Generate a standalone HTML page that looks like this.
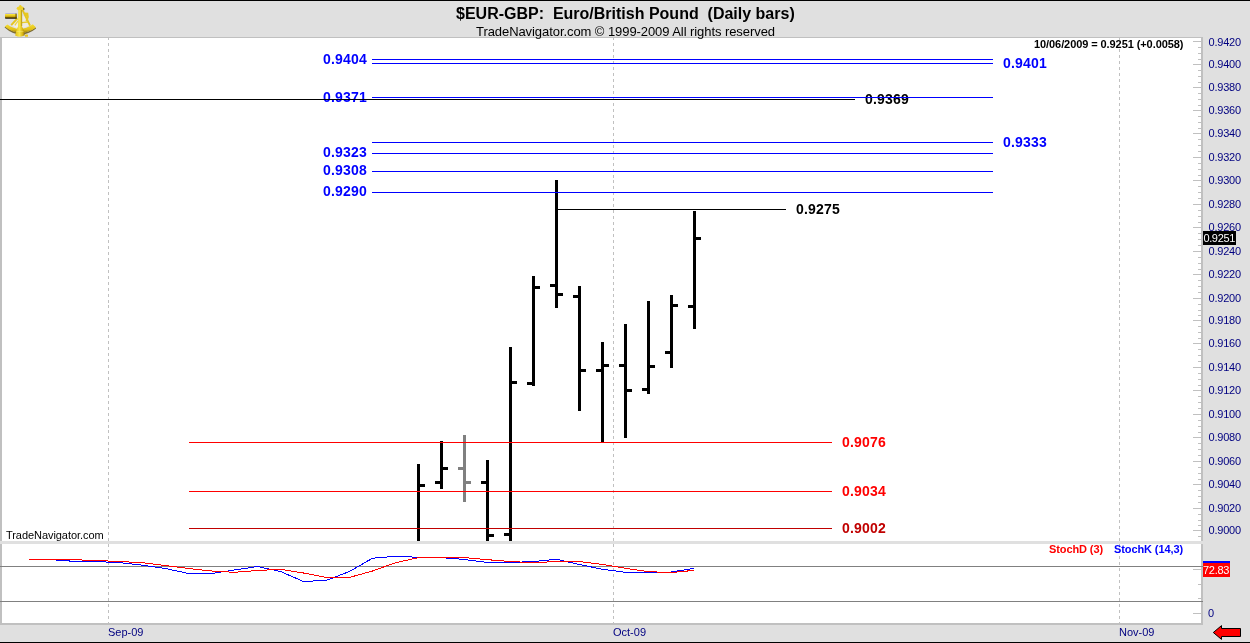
<!DOCTYPE html>
<html><head><meta charset="utf-8"><title>$EUR-GBP: Euro/British Pound (Daily bars)</title>
<style>
html,body{margin:0;padding:0;}
body{width:1250px;height:643px;background:#e0e0e0;position:relative;overflow:hidden;font-family:"Liberation Sans",sans-serif;}
#c{position:absolute;left:0;top:0;width:1250px;height:643px;overflow:hidden;}
#c div{position:absolute;}
.t{position:absolute;white-space:pre;line-height:1;transform-origin:0 0;}
.vd{width:1px;background:repeating-linear-gradient(to bottom,#c0c0c0 0,#c0c0c0 3px,transparent 3px,transparent 6px);}
.ov{position:absolute;left:0;top:0;}
</style></head><body><div id="c">
<div style="left:0px;top:0px;width:1250px;height:1px;background:#000;"></div>
<div style="left:0px;top:642px;width:1250px;height:1px;background:#000;"></div>
<div style="left:0px;top:37px;width:1203px;height:504px;background:#c0c0c0;"></div>
<div style="left:2px;top:38px;width:1199px;height:503px;background:#fff;"></div>
<div style="left:0px;top:544px;width:1203px;height:81px;background:#c0c0c0;"></div>
<div style="left:2px;top:544px;width:1199px;height:79px;background:#fff;"></div>
<div class="vd" style="left:108px;top:37px;height:143px"></div>
<div class="vd" style="left:108px;top:180px;height:123px"></div>
<div class="vd" style="left:108px;top:305px;height:125px"></div>
<div class="vd" style="left:108px;top:430px;height:111px"></div>
<div class="vd" style="left:108px;top:544px;height:79px"></div>
<div class="vd" style="left:613px;top:37px;height:143px"></div>
<div class="vd" style="left:613px;top:180px;height:123px"></div>
<div class="vd" style="left:613px;top:305px;height:125px"></div>
<div class="vd" style="left:613px;top:430px;height:111px"></div>
<div class="vd" style="left:613px;top:544px;height:79px"></div>
<div class="vd" style="left:1119px;top:37px;height:143px"></div>
<div class="vd" style="left:1119px;top:180px;height:123px"></div>
<div class="vd" style="left:1119px;top:305px;height:125px"></div>
<div class="vd" style="left:1119px;top:430px;height:111px"></div>
<div class="vd" style="left:1119px;top:544px;height:79px"></div>
<div style="left:1193px;top:41px;width:8px;height:1px;background:#c0c0c0;"></div>
<div style="left:1198px;top:47px;width:3px;height:1px;background:#c0c0c0;"></div>
<div style="left:1198px;top:53px;width:3px;height:1px;background:#c0c0c0;"></div>
<div style="left:1198px;top:59px;width:3px;height:1px;background:#c0c0c0;"></div>
<span class="t ax" style="left:1208.5px;top:37px;font-size:11px;color:#000080;letter-spacing:-0.2px;">0.9420</span>
<div style="left:1193px;top:64px;width:8px;height:1px;background:#c0c0c0;"></div>
<div style="left:1198px;top:70px;width:3px;height:1px;background:#c0c0c0;"></div>
<div style="left:1198px;top:76px;width:3px;height:1px;background:#c0c0c0;"></div>
<div style="left:1198px;top:82px;width:3px;height:1px;background:#c0c0c0;"></div>
<span class="t ax" style="left:1208.5px;top:59px;font-size:11px;color:#000080;letter-spacing:-0.2px;">0.9400</span>
<div style="left:1193px;top:87px;width:8px;height:1px;background:#c0c0c0;"></div>
<div style="left:1198px;top:93px;width:3px;height:1px;background:#c0c0c0;"></div>
<div style="left:1198px;top:99px;width:3px;height:1px;background:#c0c0c0;"></div>
<div style="left:1198px;top:105px;width:3px;height:1px;background:#c0c0c0;"></div>
<span class="t ax" style="left:1208.5px;top:82px;font-size:11px;color:#000080;letter-spacing:-0.2px;">0.9380</span>
<div style="left:1193px;top:110px;width:8px;height:1px;background:#c0c0c0;"></div>
<div style="left:1198px;top:116px;width:3px;height:1px;background:#c0c0c0;"></div>
<div style="left:1198px;top:122px;width:3px;height:1px;background:#c0c0c0;"></div>
<div style="left:1198px;top:128px;width:3px;height:1px;background:#c0c0c0;"></div>
<span class="t ax" style="left:1208.5px;top:105px;font-size:11px;color:#000080;letter-spacing:-0.2px;">0.9360</span>
<div style="left:1193px;top:133px;width:8px;height:1px;background:#c0c0c0;"></div>
<div style="left:1198px;top:139px;width:3px;height:1px;background:#c0c0c0;"></div>
<div style="left:1198px;top:145px;width:3px;height:1px;background:#c0c0c0;"></div>
<div style="left:1198px;top:151px;width:3px;height:1px;background:#c0c0c0;"></div>
<span class="t ax" style="left:1208.5px;top:128px;font-size:11px;color:#000080;letter-spacing:-0.2px;">0.9340</span>
<div style="left:1193px;top:157px;width:8px;height:1px;background:#c0c0c0;"></div>
<div style="left:1198px;top:163px;width:3px;height:1px;background:#c0c0c0;"></div>
<div style="left:1198px;top:169px;width:3px;height:1px;background:#c0c0c0;"></div>
<div style="left:1198px;top:175px;width:3px;height:1px;background:#c0c0c0;"></div>
<span class="t ax" style="left:1208.5px;top:152px;font-size:11px;color:#000080;letter-spacing:-0.2px;">0.9320</span>
<div style="left:1193px;top:180px;width:8px;height:1px;background:#c0c0c0;"></div>
<div style="left:1198px;top:186px;width:3px;height:1px;background:#c0c0c0;"></div>
<div style="left:1198px;top:192px;width:3px;height:1px;background:#c0c0c0;"></div>
<div style="left:1198px;top:198px;width:3px;height:1px;background:#c0c0c0;"></div>
<span class="t ax" style="left:1208.5px;top:175px;font-size:11px;color:#000080;letter-spacing:-0.2px;">0.9300</span>
<div style="left:1193px;top:204px;width:8px;height:1px;background:#c0c0c0;"></div>
<div style="left:1198px;top:210px;width:3px;height:1px;background:#c0c0c0;"></div>
<div style="left:1198px;top:216px;width:3px;height:1px;background:#c0c0c0;"></div>
<div style="left:1198px;top:222px;width:3px;height:1px;background:#c0c0c0;"></div>
<span class="t ax" style="left:1208.5px;top:199px;font-size:11px;color:#000080;letter-spacing:-0.2px;">0.9280</span>
<div style="left:1193px;top:227px;width:8px;height:1px;background:#c0c0c0;"></div>
<div style="left:1198px;top:233px;width:3px;height:1px;background:#c0c0c0;"></div>
<div style="left:1198px;top:239px;width:3px;height:1px;background:#c0c0c0;"></div>
<div style="left:1198px;top:245px;width:3px;height:1px;background:#c0c0c0;"></div>
<span class="t ax" style="left:1208.5px;top:222px;font-size:11px;color:#000080;letter-spacing:-0.2px;">0.9260</span>
<div style="left:1193px;top:251px;width:8px;height:1px;background:#c0c0c0;"></div>
<div style="left:1198px;top:257px;width:3px;height:1px;background:#c0c0c0;"></div>
<div style="left:1198px;top:263px;width:3px;height:1px;background:#c0c0c0;"></div>
<div style="left:1198px;top:269px;width:3px;height:1px;background:#c0c0c0;"></div>
<span class="t ax" style="left:1208.5px;top:246px;font-size:11px;color:#000080;letter-spacing:-0.2px;">0.9240</span>
<div style="left:1193px;top:274px;width:8px;height:1px;background:#c0c0c0;"></div>
<div style="left:1198px;top:280px;width:3px;height:1px;background:#c0c0c0;"></div>
<div style="left:1198px;top:286px;width:3px;height:1px;background:#c0c0c0;"></div>
<div style="left:1198px;top:292px;width:3px;height:1px;background:#c0c0c0;"></div>
<span class="t ax" style="left:1208.5px;top:269px;font-size:11px;color:#000080;letter-spacing:-0.2px;">0.9220</span>
<div style="left:1193px;top:298px;width:8px;height:1px;background:#c0c0c0;"></div>
<div style="left:1198px;top:304px;width:3px;height:1px;background:#c0c0c0;"></div>
<div style="left:1198px;top:310px;width:3px;height:1px;background:#c0c0c0;"></div>
<div style="left:1198px;top:315px;width:3px;height:1px;background:#c0c0c0;"></div>
<span class="t ax" style="left:1208.5px;top:293px;font-size:11px;color:#000080;letter-spacing:-0.2px;">0.9200</span>
<div style="left:1193px;top:320px;width:8px;height:1px;background:#c0c0c0;"></div>
<div style="left:1198px;top:326px;width:3px;height:1px;background:#c0c0c0;"></div>
<div style="left:1198px;top:332px;width:3px;height:1px;background:#c0c0c0;"></div>
<div style="left:1198px;top:338px;width:3px;height:1px;background:#c0c0c0;"></div>
<span class="t ax" style="left:1208.5px;top:315px;font-size:11px;color:#000080;letter-spacing:-0.2px;">0.9180</span>
<div style="left:1193px;top:343px;width:8px;height:1px;background:#c0c0c0;"></div>
<div style="left:1198px;top:349px;width:3px;height:1px;background:#c0c0c0;"></div>
<div style="left:1198px;top:355px;width:3px;height:1px;background:#c0c0c0;"></div>
<div style="left:1198px;top:361px;width:3px;height:1px;background:#c0c0c0;"></div>
<span class="t ax" style="left:1208.5px;top:338px;font-size:11px;color:#000080;letter-spacing:-0.2px;">0.9160</span>
<div style="left:1193px;top:367px;width:8px;height:1px;background:#c0c0c0;"></div>
<div style="left:1198px;top:373px;width:3px;height:1px;background:#c0c0c0;"></div>
<div style="left:1198px;top:379px;width:3px;height:1px;background:#c0c0c0;"></div>
<div style="left:1198px;top:385px;width:3px;height:1px;background:#c0c0c0;"></div>
<span class="t ax" style="left:1208.5px;top:362px;font-size:11px;color:#000080;letter-spacing:-0.2px;">0.9140</span>
<div style="left:1193px;top:390px;width:8px;height:1px;background:#c0c0c0;"></div>
<div style="left:1198px;top:396px;width:3px;height:1px;background:#c0c0c0;"></div>
<div style="left:1198px;top:402px;width:3px;height:1px;background:#c0c0c0;"></div>
<div style="left:1198px;top:408px;width:3px;height:1px;background:#c0c0c0;"></div>
<span class="t ax" style="left:1208.5px;top:385px;font-size:11px;color:#000080;letter-spacing:-0.2px;">0.9120</span>
<div style="left:1193px;top:414px;width:8px;height:1px;background:#c0c0c0;"></div>
<div style="left:1198px;top:420px;width:3px;height:1px;background:#c0c0c0;"></div>
<div style="left:1198px;top:426px;width:3px;height:1px;background:#c0c0c0;"></div>
<div style="left:1198px;top:432px;width:3px;height:1px;background:#c0c0c0;"></div>
<span class="t ax" style="left:1208.5px;top:409px;font-size:11px;color:#000080;letter-spacing:-0.2px;">0.9100</span>
<div style="left:1193px;top:437px;width:8px;height:1px;background:#c0c0c0;"></div>
<div style="left:1198px;top:443px;width:3px;height:1px;background:#c0c0c0;"></div>
<div style="left:1198px;top:449px;width:3px;height:1px;background:#c0c0c0;"></div>
<div style="left:1198px;top:455px;width:3px;height:1px;background:#c0c0c0;"></div>
<span class="t ax" style="left:1208.5px;top:432px;font-size:11px;color:#000080;letter-spacing:-0.2px;">0.9080</span>
<div style="left:1193px;top:461px;width:8px;height:1px;background:#c0c0c0;"></div>
<div style="left:1198px;top:467px;width:3px;height:1px;background:#c0c0c0;"></div>
<div style="left:1198px;top:473px;width:3px;height:1px;background:#c0c0c0;"></div>
<div style="left:1198px;top:479px;width:3px;height:1px;background:#c0c0c0;"></div>
<span class="t ax" style="left:1208.5px;top:456px;font-size:11px;color:#000080;letter-spacing:-0.2px;">0.9060</span>
<div style="left:1193px;top:484px;width:8px;height:1px;background:#c0c0c0;"></div>
<div style="left:1198px;top:490px;width:3px;height:1px;background:#c0c0c0;"></div>
<div style="left:1198px;top:496px;width:3px;height:1px;background:#c0c0c0;"></div>
<div style="left:1198px;top:502px;width:3px;height:1px;background:#c0c0c0;"></div>
<span class="t ax" style="left:1208.5px;top:479px;font-size:11px;color:#000080;letter-spacing:-0.2px;">0.9040</span>
<div style="left:1193px;top:508px;width:8px;height:1px;background:#c0c0c0;"></div>
<div style="left:1198px;top:514px;width:3px;height:1px;background:#c0c0c0;"></div>
<div style="left:1198px;top:520px;width:3px;height:1px;background:#c0c0c0;"></div>
<div style="left:1198px;top:525px;width:3px;height:1px;background:#c0c0c0;"></div>
<span class="t ax" style="left:1208.5px;top:503px;font-size:11px;color:#000080;letter-spacing:-0.2px;">0.9020</span>
<div style="left:1193px;top:530px;width:8px;height:1px;background:#c0c0c0;"></div>
<div style="left:1198px;top:536px;width:3px;height:1px;background:#c0c0c0;"></div>
<span class="t ax" style="left:1208.5px;top:525px;font-size:11px;color:#000080;letter-spacing:-0.2px;">0.9000</span>
<div style="left:417px;top:464px;width:3px;height:77px;background:#000;"></div>
<div style="left:420px;top:484px;width:5px;height:3px;background:#000;"></div>
<div style="left:440px;top:441px;width:3px;height:48px;background:#000;"></div>
<div style="left:435px;top:481px;width:5px;height:3px;background:#000;"></div>
<div style="left:443px;top:467px;width:5px;height:3px;background:#000;"></div>
<div style="left:463px;top:435px;width:3px;height:67px;background:#808080;"></div>
<div style="left:458px;top:467px;width:5px;height:3px;background:#808080;"></div>
<div style="left:466px;top:481px;width:5px;height:3px;background:#808080;"></div>
<div style="left:486px;top:460px;width:3px;height:81px;background:#000;"></div>
<div style="left:481px;top:481px;width:5px;height:3px;background:#000;"></div>
<div style="left:489px;top:534px;width:5px;height:3px;background:#000;"></div>
<div style="left:509px;top:347px;width:3px;height:194px;background:#000;"></div>
<div style="left:504px;top:533px;width:5px;height:3px;background:#000;"></div>
<div style="left:512px;top:381px;width:5px;height:3px;background:#000;"></div>
<div style="left:532px;top:276px;width:3px;height:110px;background:#000;"></div>
<div style="left:527px;top:382px;width:5px;height:3px;background:#000;"></div>
<div style="left:535px;top:286px;width:5px;height:3px;background:#000;"></div>
<div style="left:555px;top:180px;width:3px;height:128px;background:#000;"></div>
<div style="left:550px;top:284px;width:5px;height:3px;background:#000;"></div>
<div style="left:558px;top:293px;width:5px;height:3px;background:#000;"></div>
<div style="left:578px;top:286px;width:3px;height:125px;background:#000;"></div>
<div style="left:573px;top:295px;width:5px;height:3px;background:#000;"></div>
<div style="left:581px;top:369px;width:5px;height:3px;background:#000;"></div>
<div style="left:601px;top:342px;width:3px;height:100px;background:#000;"></div>
<div style="left:596px;top:369px;width:5px;height:3px;background:#000;"></div>
<div style="left:604px;top:364px;width:5px;height:3px;background:#000;"></div>
<div style="left:624px;top:324px;width:3px;height:114px;background:#000;"></div>
<div style="left:619px;top:364px;width:5px;height:3px;background:#000;"></div>
<div style="left:627px;top:389px;width:5px;height:3px;background:#000;"></div>
<div style="left:647px;top:301px;width:3px;height:93px;background:#000;"></div>
<div style="left:642px;top:388px;width:5px;height:3px;background:#000;"></div>
<div style="left:650px;top:365px;width:5px;height:3px;background:#000;"></div>
<div style="left:670px;top:295px;width:3px;height:73px;background:#000;"></div>
<div style="left:665px;top:351px;width:5px;height:3px;background:#000;"></div>
<div style="left:673px;top:304px;width:5px;height:3px;background:#000;"></div>
<div style="left:693px;top:211px;width:3px;height:118px;background:#000;"></div>
<div style="left:688px;top:305px;width:5px;height:3px;background:#000;"></div>
<div style="left:696px;top:237px;width:5px;height:3px;background:#000;"></div>
<span class="t lb" style="left:323px;top:52px;font-size:14px;color:#0000ff;font-weight:bold;letter-spacing:0.2px;">0.9404</span>
<span class="t lb" style="left:323px;top:90px;font-size:14px;color:#0000ff;font-weight:bold;letter-spacing:0.2px;">0.9371</span>
<span class="t lb" style="left:323px;top:145px;font-size:14px;color:#0000ff;font-weight:bold;letter-spacing:0.2px;">0.9323</span>
<span class="t lb" style="left:323px;top:163px;font-size:14px;color:#0000ff;font-weight:bold;letter-spacing:0.2px;">0.9308</span>
<span class="t lb" style="left:323px;top:184px;font-size:14px;color:#0000ff;font-weight:bold;letter-spacing:0.2px;">0.9290</span>
<span class="t lb" style="left:1003px;top:56px;font-size:14px;color:#0000ff;font-weight:bold;letter-spacing:0.2px;">0.9401</span>
<span class="t lb" style="left:1003px;top:135px;font-size:14px;color:#0000ff;font-weight:bold;letter-spacing:0.2px;">0.9333</span>
<span class="t lb" style="left:865px;top:92px;font-size:14px;color:#000;font-weight:bold;letter-spacing:0.2px;">0.9369</span>
<span class="t lb" style="left:796px;top:202px;font-size:14px;color:#000;font-weight:bold;letter-spacing:0.2px;">0.9275</span>
<span class="t lb" style="left:842px;top:435px;font-size:14px;color:#ff0000;font-weight:bold;letter-spacing:0.2px;">0.9076</span>
<span class="t lb" style="left:842px;top:484px;font-size:14px;color:#ff0000;font-weight:bold;letter-spacing:0.2px;">0.9034</span>
<span class="t lb" style="left:842px;top:521px;font-size:14px;color:#c00000;font-weight:bold;letter-spacing:0.2px;">0.9002</span>
<div style="left:372px;top:59px;width:621px;height:1px;background:#0000ff;"></div>
<div style="left:372px;top:63px;width:621px;height:1px;background:#0000ff;"></div>
<div style="left:372px;top:97px;width:621px;height:1px;background:#0000ff;"></div>
<div style="left:372px;top:142px;width:621px;height:1px;background:#0000ff;"></div>
<div style="left:372px;top:153px;width:621px;height:1px;background:#0000ff;"></div>
<div style="left:372px;top:171px;width:621px;height:1px;background:#0000ff;"></div>
<div style="left:372px;top:192px;width:621px;height:1px;background:#0000ff;"></div>
<div style="left:0px;top:99px;width:855px;height:1px;background:#000;"></div>
<div style="left:557px;top:209px;width:229px;height:1px;background:#000;"></div>
<div style="left:189px;top:442px;width:643px;height:1px;background:#ff0000;"></div>
<div style="left:189px;top:491px;width:643px;height:1px;background:#ff0000;"></div>
<div style="left:189px;top:528px;width:643px;height:1px;background:#c00000;"></div>
<span class="t info" style="left:1034px;top:39px;font-size:11px;color:#000;font-weight:bold;letter-spacing:-0.08px;">10/06/2009 = 0.9251 (+0.0058)</span>
<span class="t wm" style="left:6px;top:530px;font-size:11px;color:#000;letter-spacing:-0.06px;">TradeNavigator.com</span>
<div style="left:1203px;top:231px;width:33px;height:14px;background:#000;"></div>
<span class="t pb" style="left:1203.4px;top:233px;font-size:11px;color:#fff;letter-spacing:-0.35px;">0.9251</span>
<span class="t title" style="left:456px;top:6px;font-size:16px;color:#000;font-weight:bold;">$EUR-GBP:&nbsp; Euro/British Pound&nbsp; (Daily bars)</span>
<span class="t sub" style="left:476px;top:25px;font-size:13px;color:#000;letter-spacing:-0.07px;">TradeNavigator.com © 1999-2009 All rights reserved</span>
<div style="left:0px;top:566px;width:1203px;height:1px;background:#808080;"></div>
<div style="left:0px;top:601px;width:1203px;height:1px;background:#808080;"></div>
<div style="left:1193px;top:569px;width:8px;height:1px;background:#c0c0c0;"></div>
<div style="left:1198px;top:584px;width:3px;height:1px;background:#c0c0c0;"></div>
<div style="left:1198px;top:598px;width:3px;height:1px;background:#c0c0c0;"></div>
<div style="left:1193px;top:613px;width:8px;height:1px;background:#c0c0c0;"></div>
<span class="t ax" style="left:1208px;top:608px;font-size:11px;color:#000080;">0</span>
<div style="left:1203px;top:561px;width:27px;height:2px;background:#0000ff;"></div>
<div style="left:1203px;top:563px;width:27px;height:14px;background:#ff0000;"></div>
<span class="t vb" style="left:1203px;top:565px;font-size:11px;color:#fff;letter-spacing:-0.3px;">72.83</span>
<span class="t lg1" style="left:1049px;top:544px;font-size:11px;color:#ff0000;font-weight:bold;letter-spacing:-0.1px;">StochD (3)</span>
<span class="t lg2" style="left:1114px;top:544px;font-size:11px;color:#0000ff;font-weight:bold;letter-spacing:-0.1px;">StochK (14,3)</span>
<span class="t mo" style="left:108px;top:627px;font-size:11px;color:#000080;">Sep-09</span>
<span class="t mo" style="left:613px;top:627px;font-size:11px;color:#000080;">Oct-09</span>
<span class="t mo" style="left:1119px;top:627px;font-size:11px;color:#000080;">Nov-09</span>
<svg class="ov" width="1250" height="643" viewBox="0 0 1250 643"><polyline points="30.5,559.5 50.5,559.6 73.5,561.3 96.5,561.6 119.5,562.6 142.5,565.2 165.5,568.5 188.5,573.5 211.5,573.5 234.5,570.0 257.5,566.5 280.5,571.5 303.5,581.5 326.5,580.3 349.5,571.5 372.5,558.2 395.5,556.3 418.5,557.3 441.5,557.6 464.5,559.5 487.5,562.5 510.5,562.5 533.5,561.5 556.5,559.3 579.5,564.5 602.5,569.3 625.5,572.3 648.5,572.4 671.5,572.0 694.0,568.3" fill="none" stroke="#0000ff" stroke-width="1" shape-rendering="crispEdges"/><polyline points="28.5,559.5 50.5,559.5 73.5,559.7 96.5,560.5 119.5,561.5 142.5,562.7 165.5,565.5 188.5,568.5 211.5,571.0 234.5,572.3 257.5,570.5 280.5,569.3 303.5,573.0 326.5,577.4 349.5,577.4 372.5,571.0 395.5,562.7 418.5,557.6 441.5,557.6 464.5,557.6 487.5,559.7 510.5,561.5 533.5,562.7 556.5,561.5 579.5,561.6 602.5,564.5 625.5,568.3 648.5,571.7 671.5,572.5 694.0,570.4" fill="none" stroke="#ff0000" stroke-width="1" shape-rendering="crispEdges"/><path d="M1213.3,632.5 L1221.5,625.6 L1221.5,628.5 L1240.5,628.5 L1240.5,636.5 L1221.5,636.5 L1221.5,639.4 Z" fill="#ff0000" stroke="#000" stroke-width="1" stroke-linejoin="miter"/></svg>
<svg class="ov" style="left:0;top:0" width="44" height="40" viewBox="0 0 44 40">
<defs>
<linearGradient id="gT" x1="0" y1="0" x2="0" y2="1"><stop offset="0" stop-color="#8a86d8"/><stop offset="0.18" stop-color="#f6e23a"/><stop offset="0.55" stop-color="#d9b411"/><stop offset="0.85" stop-color="#3a2c00"/><stop offset="1" stop-color="#1a1400"/></linearGradient>
<linearGradient id="gA" x1="0" y1="0" x2="1" y2="0"><stop offset="0" stop-color="#e0bc14"/><stop offset="0.45" stop-color="#f8e648"/><stop offset="0.8" stop-color="#d4ae10"/><stop offset="1" stop-color="#8a6a00"/></linearGradient>
<linearGradient id="gR" x1="0" y1="0" x2="0" y2="1"><stop offset="0" stop-color="#f4de34"/><stop offset="0.6" stop-color="#e2c018"/><stop offset="1" stop-color="#9a7a04"/></linearGradient>
</defs>
<!-- arc shadow -->
<path d="M4.6,27.4 Q20,41 36.2,28.4 L35.4,27.6 Q20,38.6 5.4,26.6 Z" fill="#5a4600" opacity="0.75"/>
<!-- arc -->
<path d="M4.7,26.4 L7.4,24.4 Q20,33.4 32.8,24.2 L36,27.5 Q20,39 4.7,26.4 Z" fill="url(#gR)"/>
<!-- interior highlights -->
<path d="M17.6,20.4 L12.4,25.6 Q15.4,27.6 18.2,28.2 Z" fill="#f6f2e2" opacity="0.85"/>
<path d="M22,16 L22,28 Q26,27.2 29.4,25.2 L25.4,16.6 Z" fill="#f2eedc" opacity="0.8"/>
<!-- frame struts -->
<path d="M17.4,18.4 L11.2,25.2" stroke="#e6c61e" stroke-width="1.9" fill="none"/>
<path d="M18,21 L14.8,25.4" stroke="#ecd23a" stroke-width="1.2" fill="none"/>
<path d="M22.4,9.6 L30,25.6" stroke="#e4c420" stroke-width="1.9" fill="none"/>
<path d="M21.8,22.6 L28,22" stroke="#e8cc2a" stroke-width="1.3" fill="none"/>
<path d="M24.6,12.4 L28.2,12.8 L28.8,17 L27.4,21.4 L25.6,21 L26.6,16.6 L24.4,15 Z" fill="#e6c822"/>
<!-- telescope -->
<rect x="5" y="13.4" width="11.8" height="5.4" rx="0.8" fill="url(#gT)"/>
<rect x="15.2" y="13.6" width="1.8" height="5.2" fill="#5a4400" opacity="0.55"/>
<!-- index arm -->
<path d="M18.3,8 L21.9,8 L22,26.6 L23.2,29 L24.8,35.2 Q20,38 15.1,35.4 L16.8,29 L18.1,26.6 Z" fill="url(#gA)"/>
<path d="M21.7,10 L21.8,26" stroke="#7a5c00" stroke-width="0.6" opacity="0.7"/>
<path d="M16.4,31.6 L23.6,31.6" stroke="#f8ec80" stroke-width="0.7" opacity="0.7"/>
<!-- top knob -->
<path d="M16.4,8.8 L17.4,7 L19,6.4 L19.4,5.2 L21,5 L21.6,6.2 L23.4,7 L24,8.8 Q22,10.6 20.2,9.8 Q18,10.8 16.4,8.8 Z" fill="#ecd02a"/>
<path d="M23.4,7.4 L24.6,8.6 L24.2,10.2 L23,9.4 Z" fill="#4a3800" opacity="0.8"/>
<!-- bottom knob -->
<rect x="25" y="34.4" width="3" height="2.4" rx="0.6" fill="#e6c41c"/>
</svg>

</div></body></html>
